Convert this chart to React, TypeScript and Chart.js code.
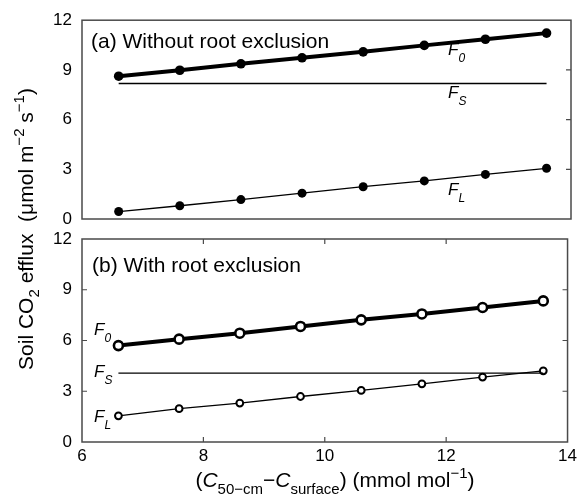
import React, { useEffect, useRef } from 'react';
import { Chart, registerables } from 'chart.js';

Chart.register(...registerables);

// ---- data ----
const xValues = [6.6, 7.6, 8.6, 9.6, 10.6, 11.6, 12.6, 13.6];
const topF0 = [8.62, 8.98, 9.37, 9.73, 10.09, 10.48, 10.85, 11.22];
const topFS = [8.18, 8.18, 8.18, 8.18, 8.18, 8.18, 8.18, 8.18];
const topFL = [0.45, 0.8, 1.17, 1.56, 1.95, 2.3, 2.69, 3.06];
const botF0 = [5.7, 6.08, 6.43, 6.83, 7.22, 7.57, 7.95, 8.34];
const botFS = [4.07, 4.07, 4.07, 4.07, 4.07, 4.07, 4.07, 4.07];
const botFL = [1.55, 1.97, 2.3, 2.69, 3.05, 3.44, 3.84, 4.21];
const xTicks = [6, 8, 10, 12, 14];
const yTicks = [0, 3, 6, 9, 12];

const FAM = '"Liberation Sans", Arial, Helvetica, sans-serif';
const W = 581;
const H = 501;

type Part = { text: string; font: string; dy?: number };

function drawRich(ctx: CanvasRenderingContext2D, parts: Part[], x: number, y: number, align: 'left' | 'center' = 'left') {
  let total = 0;
  for (const p of parts) {
    ctx.font = p.font;
    total += ctx.measureText(p.text).width;
  }
  let cx = align === 'center' ? x - total / 2 : x;
  ctx.textAlign = 'left';
  ctx.textBaseline = 'alphabetic';
  for (const p of parts) {
    ctx.font = p.font;
    ctx.fillText(p.text, cx, y + (p.dy || 0));
    cx += ctx.measureText(p.text).width;
  }
}

const big = `21px ${FAM}`;
const bigI = `italic 21px ${FAM}`;
const small = `15px ${FAM}`;
const fF = `italic 17px ${FAM}`;
const fSub = `italic 12px ${FAM}`;

function fLabel(ctx: CanvasRenderingContext2D, sub: string, x: number, y: number) {
  ctx.fillStyle = '#000';
  drawRich(ctx, [
    { text: 'F', font: fF },
    { text: sub, font: fSub, dy: 7 },
  ], x, y);
}

function drawFrame(chart: any, xTickSides: ('top' | 'bottom')[], yTickSides: ('left' | 'right')[]) {
  const ctx: CanvasRenderingContext2D = chart.ctx;
  const { left, right, top, bottom } = chart.chartArea;
  const xs = chart.scales.x;
  const ys = chart.scales.y;
  ctx.save();
  ctx.strokeStyle = '#4a4a4a';
  ctx.lineWidth = 1.5;
  ctx.strokeRect(left, top, right - left, bottom - top);
  ctx.lineWidth = 1.2;
  const L = 5;
  ctx.beginPath();
  for (const v of xTicks.slice(1, -1)) {
    const px = xs.getPixelForValue(v);
    if (xTickSides.includes('top')) { ctx.moveTo(px, top); ctx.lineTo(px, top + L); }
    if (xTickSides.includes('bottom')) { ctx.moveTo(px, bottom); ctx.lineTo(px, bottom - L); }
  }
  for (const v of yTicks.slice(1, -1)) {
    const py = ys.getPixelForValue(v);
    if (yTickSides.includes('left')) { ctx.moveTo(left, py); ctx.lineTo(left + L, py); }
    if (yTickSides.includes('right')) { ctx.moveTo(right, py); ctx.lineTo(right - L, py); }
  }
  ctx.stroke();
  ctx.restore();
}

const topPlugin = {
  id: 'topDecor',
  afterDraw(chart: any) {
    const ctx: CanvasRenderingContext2D = chart.ctx;
    drawFrame(chart, [], ['right']);
    ctx.save();
    ctx.fillStyle = '#000';
    drawRich(ctx, [{ text: '(a) Without root exclusion', font: big }], 91, 48);
    fLabel(ctx, '0', 448, 55);
    fLabel(ctx, 'S', 448, 98);
    fLabel(ctx, 'L', 448, 195);
    // y-axis title (spans both panels)
    ctx.translate(33, 229);
    ctx.rotate(-Math.PI / 2);
    drawRich(ctx, [
      { text: 'Soil CO', font: big },
      { text: '2', font: small, dy: 6 },
      { text: ' efflux  (\u03bcmol m', font: big },
      { text: '\u22122', font: small, dy: -9 },
      { text: ' s', font: big },
      { text: '\u22121', font: small, dy: -9 },
      { text: ')', font: big },
    ], 0, 0, 'center');
    ctx.restore();
  },
};

const botPlugin = {
  id: 'botDecor',
  afterDraw(chart: any) {
    const ctx: CanvasRenderingContext2D = chart.ctx;
    drawFrame(chart, ['top', 'bottom'], ['left', 'right']);
    ctx.save();
    ctx.fillStyle = '#000';
    drawRich(ctx, [{ text: '(b) With root exclusion', font: big }], 92, 272);
    fLabel(ctx, '0', 94, 335);
    fLabel(ctx, 'S', 94, 377);
    fLabel(ctx, 'L', 94, 422);
    drawRich(ctx, [
      { text: '(', font: big },
      { text: 'C', font: bigI },
      { text: '50\u2212cm', font: small, dy: 7 },
      { text: '\u2212', font: big },
      { text: 'C', font: bigI },
      { text: 'surface', font: small, dy: 7 },
      { text: ') (mmol mol', font: big },
      { text: '\u22121', font: small, dy: -9 },
      { text: ')', font: big },
    ], 335, 487, 'center');
    ctx.restore();
  },
};

function pts(ys: number[]) {
  return xValues.map((x, i) => ({ x, y: ys[i] }));
}

function yScale() {
  return {
    type: 'linear',
    min: 0,
    max: 12,
    grid: { display: false, drawTicks: false },
    border: { display: false },
    afterBuildTicks: (s: any) => { s.ticks = yTicks.map((v) => ({ value: v })); },
    afterFit: (s: any) => { s.width = 82; },
    ticks: { color: '#000', padding: 10, font: { family: FAM, size: 17 } },
  };
}

function xScale(display: boolean) {
  const sc: any = {
    type: 'linear',
    min: 6,
    max: 14,
    display,
    grid: { display: false, drawTicks: false },
    border: { display: false },
    afterBuildTicks: (s: any) => { s.ticks = xTicks.map((v) => ({ value: v })); },
    ticks: { color: '#000', padding: 4, font: { family: FAM, size: 17 } },
  };
  if (display) sc.afterFit = (s: any) => { s.height = 59; };
  return sc;
}

const baseOpts = {
  responsive: false,
  animation: false,
  plugins: { legend: { display: false }, tooltip: { enabled: false } },
};

export default function App() {
  const topRef = useRef<HTMLCanvasElement>(null);
  const botRef = useRef<HTMLCanvasElement>(null);

  useEffect(() => {
    const c1 = new Chart(topRef.current as HTMLCanvasElement, {
      type: 'line',
      data: {
        datasets: [
          { data: pts(topF0), borderColor: '#000', borderWidth: 4, pointRadius: 4.8, pointBackgroundColor: '#000', pointBorderWidth: 0, tension: 0 },
          { data: pts(topFS), borderColor: '#000', borderWidth: 1.5, pointRadius: 0, tension: 0 },
          { data: pts(topFL), borderColor: '#000', borderWidth: 1.3, pointRadius: 4.5, pointBackgroundColor: '#000', pointBorderWidth: 0, tension: 0 },
        ],
      } as any,
      options: {
        ...baseOpts,
        layout: { padding: { top: 14, right: 10, bottom: H - 219, left: 0 } },
        scales: { x: xScale(false), y: yScale() },
      } as any,
      plugins: [topPlugin],
    });
    const c2 = new Chart(botRef.current as HTMLCanvasElement, {
      type: 'line',
      data: {
        datasets: [
          { data: pts(botF0), borderColor: '#000', borderWidth: 4, pointRadius: 4.5, pointBackgroundColor: '#fff', pointBorderColor: '#000', pointBorderWidth: 2.6, tension: 0 },
          { data: pts(botFS), borderColor: '#000', borderWidth: 1.3, pointRadius: 0, tension: 0 },
          { data: pts(botFL), borderColor: '#000', borderWidth: 1.3, pointRadius: 3.4, pointBackgroundColor: '#fff', pointBorderColor: '#000', pointBorderWidth: 2, tension: 0 },
        ],
      } as any,
      options: {
        ...baseOpts,
        layout: { padding: { top: 239, right: 10, bottom: 0, left: 0 } },
        scales: { x: xScale(true), y: yScale() },
      } as any,
      plugins: [botPlugin],
    });
    return () => {
      c1.destroy();
      c2.destroy();
    };
  }, []);

  const cs: React.CSSProperties = { position: 'absolute', left: 0, top: 0, width: W, height: H };
  return (
    <div style={{ position: 'fixed', left: 0, top: 0, width: W, height: H, background: '#fff' }}>
      <canvas ref={botRef} width={W} height={H} style={cs} />
      <canvas ref={topRef} width={W} height={H} style={cs} />
    </div>
  );
}
